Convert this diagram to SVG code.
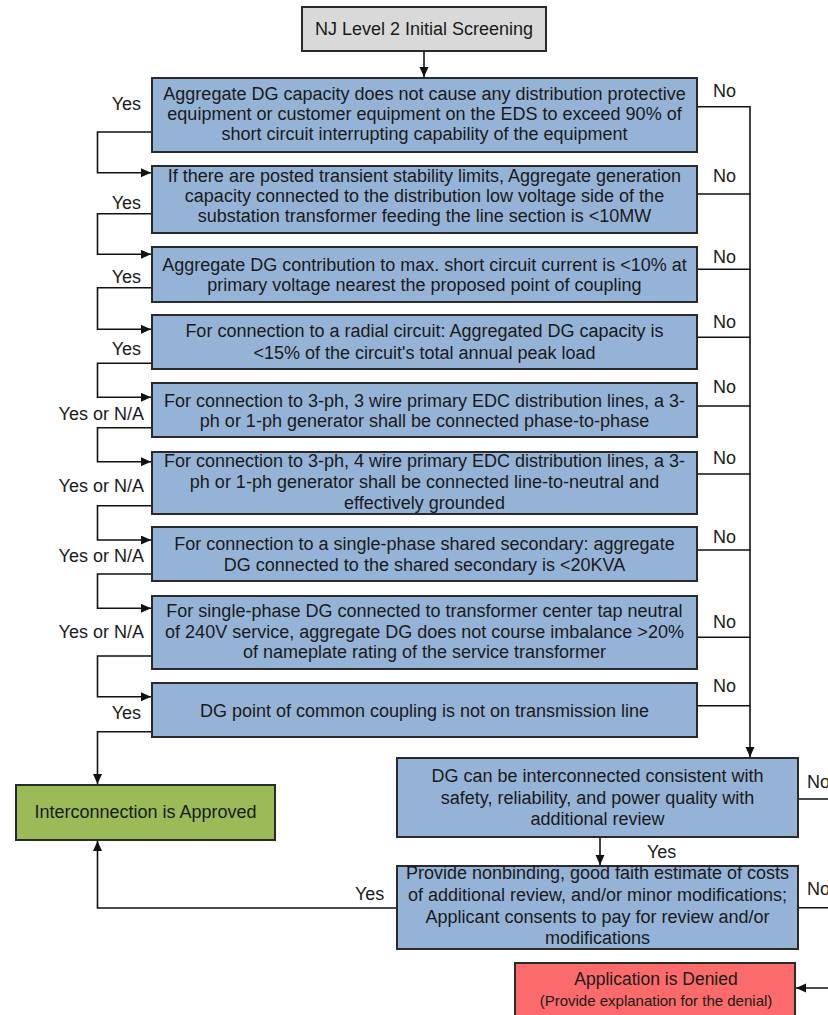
<svg xmlns="http://www.w3.org/2000/svg" width="828" height="1015" viewBox="0 0 828 1015">
<defs>
<marker id="arr" markerUnits="userSpaceOnUse" markerWidth="11" markerHeight="10" refX="10" refY="4.5" orient="auto">
<path d="M0,0 L10,4.5 L0,9 Z" fill="#111"/>
</marker>
<style>
.box{stroke:#2a2a2a;stroke-width:2}
.blue{fill:#95b3d7}
.gray{fill:#d9d9d9}
.green{fill:#9bbb59}
.red{fill:#fb6b6b}
.t{font-family:"Liberation Sans",Arial,sans-serif;font-size:18px;fill:#1a1a1a;text-anchor:middle}
.lbl{font-family:"Liberation Sans",Arial,sans-serif;font-size:18px;fill:#1a1a1a}
.end{text-anchor:end}
.con{fill:none;stroke:#111;stroke-width:1.6}
</style>
</defs>
<rect width="828" height="1015" fill="#ffffff"/>

<g id="connectors">
<path class="con" d="M424,51 V77" marker-end="url(#arr)"/>
<path class="con" d="M152,132 H97.5 V172.7 H151" marker-end="url(#arr)"/>
<path class="con" d="M152,213.7 H97.5 V254.3 H151" marker-end="url(#arr)"/>
<path class="con" d="M152,287.7 H97.5 V329.3 H151" marker-end="url(#arr)"/>
<path class="con" d="M152,363.3 H97.5 V397.3 H151" marker-end="url(#arr)"/>
<path class="con" d="M152,427.7 H97.5 V461.7 H151" marker-end="url(#arr)"/>
<path class="con" d="M152,505.7 H97.5 V540 H151" marker-end="url(#arr)"/>
<path class="con" d="M152,574 H97.5 V608.3 H151" marker-end="url(#arr)"/>
<path class="con" d="M152,656 H97.5 V696.7 H151" marker-end="url(#arr)"/>
<path class="con" d="M152,731.7 H97.5 V784" marker-end="url(#arr)"/>
<path class="con" d="M697,106.7 H750 M697,194 H750 M697,269.3 H750 M697,337.3 H750 M697,406 H750 M697,474 H750 M697,550 H750 M697,637.3 H750 M697,705.7 H750"/>
<path class="con" d="M750,106 V757" marker-end="url(#arr)"/>
<path class="con" d="M600,837 V865" marker-end="url(#arr)"/>
<path class="con" d="M397,908 H97.5 V841" marker-end="url(#arr)"/>
<path class="con" d="M798,799 H830 M798,907.7 H830"/>
<path class="con" d="M830,988 H796" marker-end="url(#arr)"/>
</g>

<g id="labels">
<text class="lbl end" x="141" y="110">Yes</text>
<text class="lbl end" x="141" y="208.5">Yes</text>
<text class="lbl end" x="141" y="283">Yes</text>
<text class="lbl end" x="141" y="355">Yes</text>
<text class="lbl end" x="144" y="420">Yes or N/A</text>
<text class="lbl end" x="144" y="491.7">Yes or N/A</text>
<text class="lbl end" x="144" y="562.3">Yes or N/A</text>
<text class="lbl end" x="144" y="638.3">Yes or N/A</text>
<text class="lbl end" x="141" y="719.3">Yes</text>
<text class="lbl" x="713" y="97">No</text>
<text class="lbl" x="713" y="182">No</text>
<text class="lbl" x="713" y="263.3">No</text>
<text class="lbl" x="713" y="328.3">No</text>
<text class="lbl" x="713" y="393.3">No</text>
<text class="lbl" x="713" y="464.3">No</text>
<text class="lbl" x="713" y="542.7">No</text>
<text class="lbl" x="713" y="627.7">No</text>
<text class="lbl" x="713" y="692.3">No</text>
<text class="lbl" x="807" y="788.3">No</text>
<text class="lbl" x="807" y="895">No</text>
<text class="lbl" x="647" y="858.3">Yes</text>
<text class="lbl" x="355" y="900">Yes</text>
</g>

<g id="start">
<rect class="box gray" x="302" y="7" width="244" height="44"/>
<text class="t" x="424" y="35">NJ Level 2 Initial Screening</text>
</g>

<g id="q1">
<rect class="box blue" x="152" y="78" width="545" height="74"/>
<text class="t" x="424.5" y="100">Aggregate DG capacity does not cause any distribution protective</text>
<text class="t" x="424.5" y="120">equipment or customer equipment on the EDS to exceed 90% of</text>
<text class="t" x="424.5" y="140">short circuit interrupting capability of the equipment</text>
</g>

<g id="q2">
<rect class="box blue" x="152" y="166" width="545" height="67"/>
<text class="t" x="424.5" y="182">If there are posted transient stability limits, Aggregate generation</text>
<text class="t" x="424.5" y="202">capacity connected to the distribution low voltage side of the</text>
<text class="t" x="424.5" y="222">substation transformer feeding the line section is &lt;10MW</text>
</g>

<g id="q3">
<rect class="box blue" x="152" y="247" width="545" height="55"/>
<text class="t" x="424.5" y="270.5">Aggregate DG contribution to max. short circuit current is &lt;10% at</text>
<text class="t" x="424.5" y="291">primary voltage nearest the proposed point of coupling</text>
</g>

<g id="q4">
<rect class="box blue" x="152" y="315" width="545" height="54"/>
<text class="t" x="424.5" y="337">For connection to a radial circuit: Aggregated DG capacity is</text>
<text class="t" x="424.5" y="358.5">&lt;15% of the circuit's total annual peak load</text>
</g>

<g id="q5">
<rect class="box blue" x="152" y="383" width="545" height="54"/>
<text class="t" x="424.5" y="406.5">For connection to 3-ph, 3 wire primary EDC distribution lines, a 3-</text>
<text class="t" x="424.5" y="427">ph or 1-ph generator shall be connected phase-to-phase</text>
</g>

<g id="q6">
<rect class="box blue" x="152" y="452" width="545" height="62"/>
<text class="t" x="424.5" y="467">For connection to 3-ph, 4 wire primary EDC distribution lines, a 3-</text>
<text class="t" x="424.5" y="488">ph or 1-ph generator shall be connected line-to-neutral and</text>
<text class="t" x="424.5" y="508.5">effectively grounded</text>
</g>

<g id="q7">
<rect class="box blue" x="152" y="527" width="545" height="54"/>
<text class="t" x="424.5" y="550">For connection to a single-phase shared secondary: aggregate</text>
<text class="t" x="424.5" y="571">DG connected to the shared secondary is &lt;20KVA</text>
</g>

<g id="q8">
<rect class="box blue" x="152" y="596" width="545" height="73"/>
<text class="t" x="424.5" y="617">For single-phase DG connected to transformer center tap neutral</text>
<text class="t" x="424.5" y="637.5">of 240V service, aggregate DG does not course imbalance &gt;20%</text>
<text class="t" x="424.5" y="658">of nameplate rating of the service transformer</text>
</g>

<g id="q9">
<rect class="box blue" x="152" y="683" width="545" height="54"/>
<text class="t" x="424.5" y="717">DG point of common coupling is not on transmission line</text>
</g>

<g id="approved">
<rect class="box green" x="16" y="785" width="259" height="55"/>
<text class="t" x="145.5" y="818">Interconnection is Approved</text>
</g>

<g id="review">
<rect class="box blue" x="397" y="758" width="401" height="79"/>
<text class="t" x="597.5" y="782">DG can be interconnected consistent with</text>
<text class="t" x="597.5" y="804">safety, reliability, and power quality with</text>
<text class="t" x="597.5" y="825">additional review</text>
</g>

<g id="estimate">
<rect class="box blue" x="397" y="866" width="401" height="83"/>
<text class="t" x="597.5" y="878.5">Provide nonbinding, good faith estimate of costs</text>
<text class="t" x="597.5" y="900.5">of additional review, and/or minor modifications;</text>
<text class="t" x="597.5" y="922.5">Applicant consents to pay for review and/or</text>
<text class="t" x="597.5" y="943.5">modifications</text>
</g>

<g id="denied">
<rect class="box red" x="515" y="963" width="280" height="60"/>
<text class="t" x="656" y="985" style="font-size:17.5px">Application is Denied</text>
<text class="t" x="656" y="1006" style="font-size:15px">(Provide explanation for the denial)</text>
</g>
</svg>
